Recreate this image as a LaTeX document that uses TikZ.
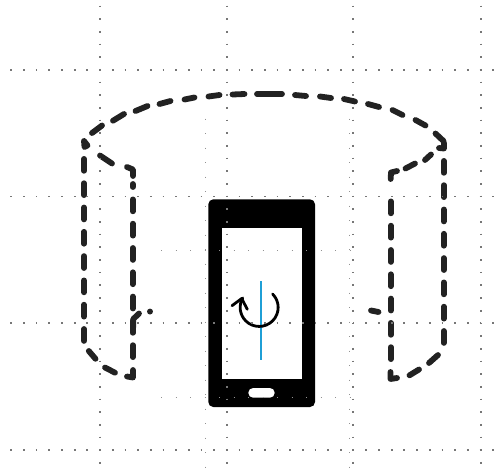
\documentclass[tikz,border=0pt]{standalone}
\usepackage{xcolor}
\usetikzlibrary{arrows.meta,calc}
\definecolor{ink}{HTML}{222222}
\definecolor{dotgray}{HTML}{777777}
\definecolor{axisblue}{HTML}{1F9FD6}
\tikzset{
  dashline/.style={ink,line width=5.8pt,line cap=round,line join=round,dash pattern=on 11.9pt off 12.4pt},
  solidline/.style={ink,line width=5.8pt,line cap=round,line join=round},
  majordots/.style={dotgray,line width=1.7pt,dash pattern=on 1.7pt off 10.98pt},
  minordots/.style={dotgray!80,line width=1pt,dash pattern=on 1pt off 13.5pt},
}
\begin{document}
\begin{tikzpicture}[x=1pt,y=-1pt]
  \useasboundingbox (0,0) rectangle (504,472);
  % phone
  \fill[black,rounded corners=5pt] (208.3,199.3) rectangle (315,407);
  \fill[white] (221.7,228.3) rectangle (301.7,378.7);
  \fill[white,rounded corners=4.8pt] (248.3,388) rectangle (274.7,397.7);
  \draw[axisblue,line width=2.2pt] (260.7,281)--(260.7,360);
  \draw[black,line width=2.8pt,line cap=round] (272.6,294) arc[start angle=-45,end angle=210,radius=19];
  \draw[black,line width=2.8pt,line cap=round,line join=round] (232,305.7)--(241.7,298.5)--(247.3,309.3);
  % top rim
  \foreach \a/\b/\c/\d in {92/133/102/125.5,113/120.7/124/114,135.5/111/147.5/106,159.5/104/170.5/101,184.5/99.5/194.5/97.5,208.5/96.5/219.5/95,232.5/94.5/244.5/94,257/94/282/94,295/95/306/96,320/96.5/331/98,344/99/355/101.5,368/104/379/107,392.5/110/402.5/115,415.5/120/425.5/125.5,435.5/133.5/443.5/141}
    \draw[solidline] (\a,\b)--(\c,\d);
  % left side
  \draw[dashline] (84,158.9)--(84,342);
  \draw[solidline] (84,141)--(84.5,147)--(87.5,145.5)--cycle;
  \draw[solidline] (88.8,351)--(95.5,358.8);
  \draw[solidline] (105,367.5)--(115,372.7);
  \draw[solidline] (127,376.5)--(133,377.5)--(133,370);
  \draw[dashline] (132.7,357.1)--(132.7,184);
  \draw[solidline] (133,332)--(133.3,319)--(139,313.5);
  \draw[solidline] (150,311.5)--(150,311.6);
  \draw[solidline] (133,176)--(133,169.5)--(127,167);
  \draw[solidline] (100,155.5)--(112,163.5);
  % right side
  \draw[dashline] (443.7,160.9)--(443.7,346);
  \draw[solidline] (438,355)--(429,363);
  \draw[solidline] (419,369.5)--(409.5,375.3);
  \draw[solidline] (390.5,372)--(390.5,379)--(397,378);
  \draw[dashline] (390.7,359.1)--(390.7,191);
  \draw[solidline] (390.7,179)--(391,172.5)--(397,171);
  \draw[solidline] (405.5,168.5)--(415,163.5);
  \draw[solidline] (425,160)--(431,154.5);
  \draw[solidline] (439,148)--(444,148.5)--(444,143);
  \draw[solidline] (371,310.5)--(378.5,312);
  % major grid
  \foreach \y in {70,196.6,323.3,450}
    \draw[majordots] (10.4,\y)--(495,\y);
  \foreach \x in {100,226.8,353.3,481}
    \draw[majordots] (\x,5.5)--(\x,472);
  % minor grid
  \foreach \y in {250.6,397}
    \draw[minordots] (161.2,\y)--(364,\y);
  \foreach \x in {205.5,349}
    \draw[minordots] (\x,118.5)--(\x,472);
\end{tikzpicture}
\end{document}
